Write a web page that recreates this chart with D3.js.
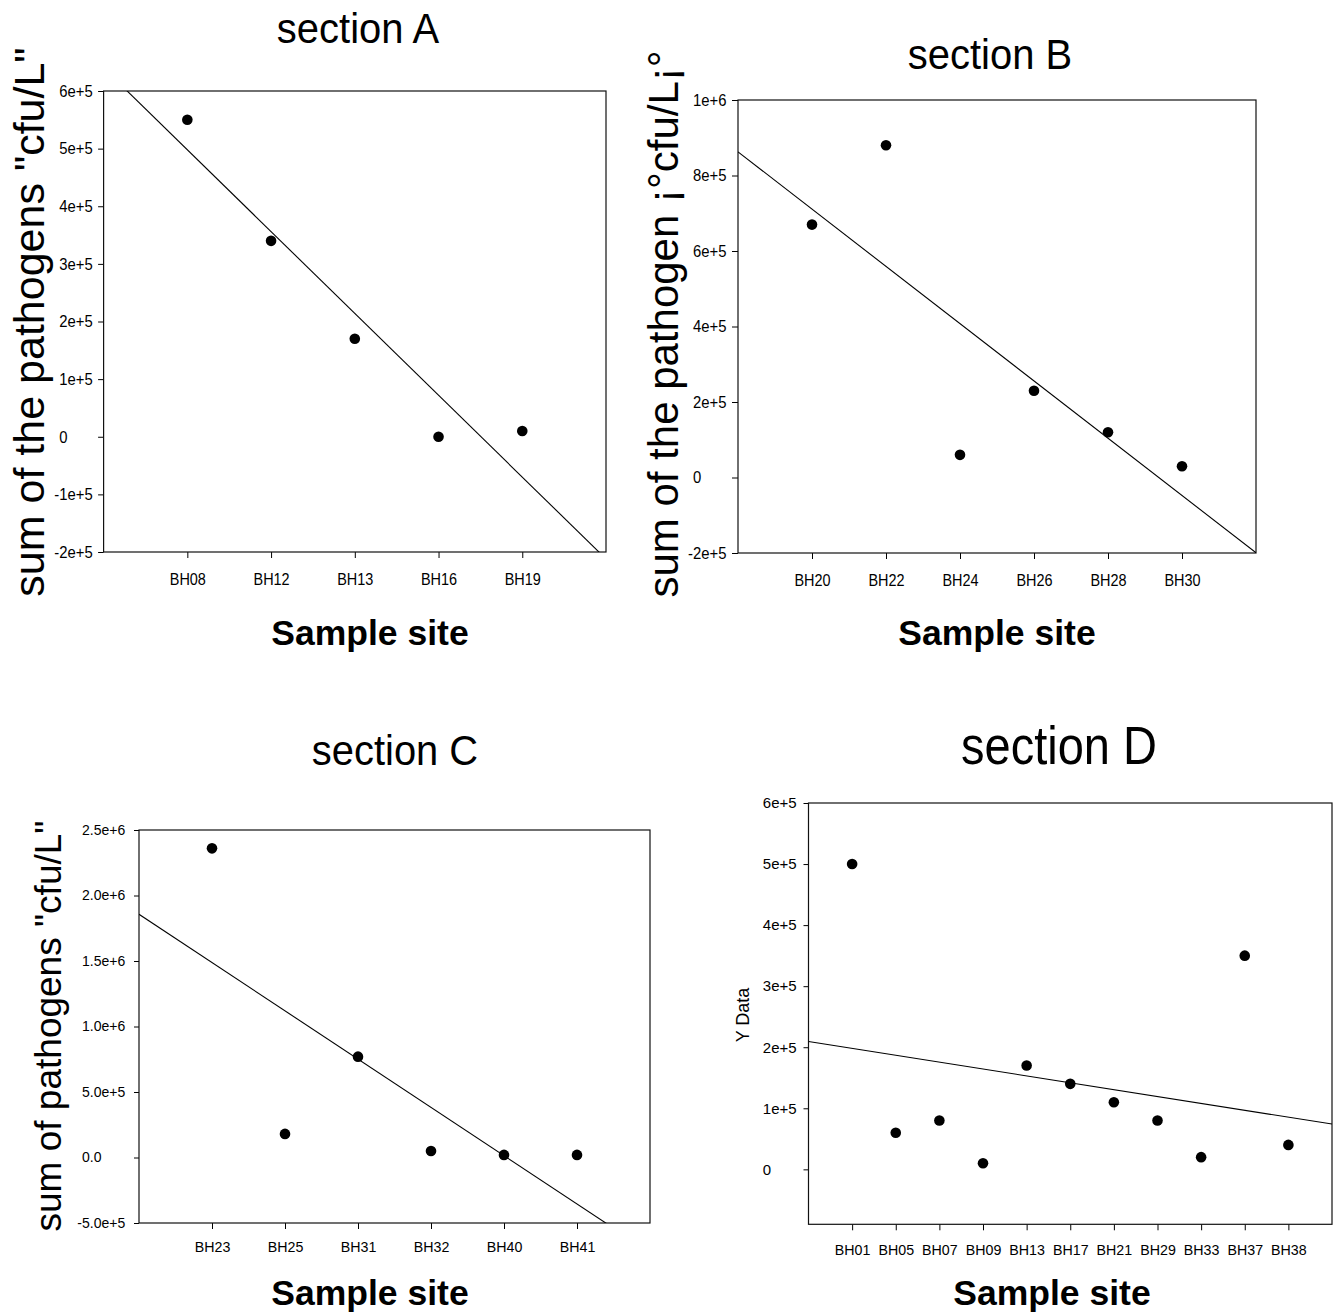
<!DOCTYPE html>
<html>
<head>
<meta charset="utf-8">
<script src="https://cdn.jsdelivr.net/npm/d3@7"></script>
<style>
  body { margin: 0; background: #fff; }
  svg { display: block; font-family: "Liberation Sans", Arial, Helvetica, sans-serif; }
</style>
</head>
<body>
<svg id="chart" width="1335" height="1312"></svg>
<script>
// section A
const sitesA = ['BH08', 'BH12', 'BH13', 'BH16', 'BH19'];
const valuesA = [550000, 340000, 170000, 0, 10000];
const yRangeA = [-200000, 600000];
const yTicksA = [-200000, -100000, 0, 100000, 200000, 300000, 400000, 500000, 600000];
const yTickLabelsA = ['-2e+5', '-1e+5', '0', '1e+5', '2e+5', '3e+5', '4e+5', '5e+5', '6e+5'];

// section B
const sitesB = ['BH20', 'BH22', 'BH24', 'BH26', 'BH28', 'BH30'];
const valuesB = [670000, 880000, 60000, 230000, 120000, 30000];
const yRangeB = [-200000, 1000000];
const yTicksB = [-200000, 0, 200000, 400000, 600000, 800000, 1000000];
const yTickLabelsB = ['-2e+5', '0', '2e+5', '4e+5', '6e+5', '8e+5', '1e+6'];

// section C
const sitesC = ['BH23', 'BH25', 'BH31', 'BH32', 'BH40', 'BH41'];
const valuesC = [2360000, 180000, 770000, 50000, 20000, 20000];
const yRangeC = [-500000, 2500000];
const yTicksC = [-500000, 0, 500000, 1000000, 1500000, 2000000, 2500000];
const yTickLabelsC = ['-5.0e+5', '0.0', '5.0e+5', '1.0e+6', '1.5e+6', '2.0e+6', '2.5e+6'];

// section D
const sitesD = ['BH01', 'BH05', 'BH07', 'BH09', 'BH13', 'BH17', 'BH21', 'BH29', 'BH33', 'BH37', 'BH38'];
const valuesD = [500000, 60000, 80000, 10000, 170000, 140000, 110000, 80000, 20000, 350000, 40000];
const yRangeD = [-90000, 600000];
const yTicksD = [0, 100000, 200000, 300000, 400000, 500000, 600000];
const yTickLabelsD = ['0', '1e+5', '2e+5', '3e+5', '4e+5', '5e+5', '6e+5'];

const titles = ['section A', 'section B', 'section C', 'section D'];
const yLabels = [
  'sum of the pathogens "cfu/L"',
  'sum of the pathogen \u00a1\u00b0cfu/L\u00a1\u00b0',
  'sum of pathogens "cfu/L"',
  'Y Data',
];
const xLabel = 'Sample site';

// layout of each panel (pixels)
const panels = [
  {
    sites: sitesA, values: valuesA, yRange: yRangeA, yTicks: yTicksA, yTickLabels: yTickLabelsA,
    box: { l: 103.6, r: 606, t: 91, b: 552 },
    title: { x: 358, y: 43, size: 43, sx: 0.93 },
    yLab: { x: 43.5, y: 322, size: 43 },
    xLab: { x: 370, y: 645 },
    yTick: { size: 16.5, sx: 0.9, start: -44.3, len: 5.5 },
    xTick: { size: 17, sx: 0.85, base: 33, len: 6 },
  },
  {
    sites: sitesB, values: valuesB, yRange: yRangeB, yTicks: yTicksB, yTickLabels: yTickLabelsB,
    box: { l: 738, r: 1256, t: 100, b: 553 },
    title: { x: 990, y: 69, size: 43, sx: 0.93 },
    yLab: { x: 678, y: 324, size: 42 },
    xLab: { x: 997, y: 645 },
    yTick: { size: 16.5, sx: 0.9, start: -45, len: 6 },
    xTick: { size: 17, sx: 0.85, base: 32.7, len: 6 },
  },
  {
    sites: sitesC, values: valuesC, yRange: yRangeC, yTicks: yTicksC, yTickLabels: yTickLabelsC,
    box: { l: 139, r: 650, t: 830, b: 1223 },
    title: { x: 395, y: 765, size: 42, sx: 0.95 },
    yLab: { x: 61, y: 1026, size: 37 },
    xLab: { x: 370, y: 1305 },
    yTick: { size: 14, sx: 1, start: -57, len: 5 },
    xTick: { size: 15, sx: 0.95, base: 29.3, len: 6 },
  },
  {
    sites: sitesD, values: valuesD, yRange: yRangeD, yTicks: yTicksD, yTickLabels: yTickLabelsD,
    box: { l: 808.5, r: 1332, t: 803, b: 1224.3 },
    title: { x: 1059, y: 764, size: 54, sx: 0.87 },
    yLab: { x: 749, y: 1015, size: 18 },
    xLab: { x: 1052, y: 1305 },
    yTick: { size: 15, sx: 1, start: -45.7, len: 5 },
    xTick: { size: 15, sx: 0.95, base: 30.7, len: 6 },
  },
];

const svg = d3.select('#chart');

// least squares fit against the site index
function fitLine(values) {
  const xs = values.map((v, i) => i + 1);
  const mx = d3.mean(xs);
  const my = d3.mean(values);
  const sxy = d3.sum(xs, (x, i) => (x - mx) * (values[i] - my));
  const sxx = d3.sum(xs, x => (x - mx) * (x - mx));
  const slope = sxy / sxx;
  return { slope, intercept: my - slope * mx };
}

panels.forEach((p, k) => {
  const g = svg.append('g');
  const n = p.sites.length;
  const x = d3.scaleLinear().domain([0, n + 1]).range([p.box.l, p.box.r]);
  const y = d3.scaleLinear().domain(p.yRange).range([p.box.b, p.box.t]);

  // title
  g.append('text')
    .attr('transform', `translate(${p.title.x},${p.title.y}) scale(${p.title.sx},1)`)
    .attr('text-anchor', 'middle')
    .style('font-size', `${p.title.size}px`)
    .text(titles[k]);

  // y axis label
  g.append('text')
    .attr('transform', `translate(${p.yLab.x},${p.yLab.y}) rotate(-90)`)
    .attr('text-anchor', 'middle')
    .style('font-size', `${p.yLab.size}px`)
    .text(yLabels[k]);

  // x axis label
  g.append('text')
    .attr('x', p.xLab.x)
    .attr('y', p.xLab.y)
    .attr('text-anchor', 'middle')
    .style('font-size', '35.5px')
    .style('font-weight', 'bold')
    .text(xLabel);

  // left axis
  const yAxis = g.append('g')
    .attr('transform', `translate(${p.box.l},0)`)
    .style('color', '#000')
    .call(d3.axisLeft(y)
      .tickValues(p.yTicks)
      .tickFormat((d, i) => p.yTickLabels[i])
      .tickSize(p.yTick.len));
  yAxis.select('.domain').remove();
  yAxis.selectAll('text')
    .attr('text-anchor', 'start')
    .attr('x', d => (p.yTick.start - (d < 0 ? 0.333 * p.yTick.size * p.yTick.sx : 0)) / p.yTick.sx)
    .attr('transform', `scale(${p.yTick.sx},1)`)
    .style('font-size', `${p.yTick.size}px`)
    .style('font-family', 'inherit');

  // bottom axis
  const xAxis = g.append('g')
    .attr('transform', `translate(0,${p.box.b})`)
    .style('color', '#000')
    .call(d3.axisBottom(x)
      .tickValues(d3.range(1, n + 1))
      .tickFormat(i => p.sites[i - 1])
      .tickSize(p.xTick.len));
  xAxis.select('.domain').remove();
  xAxis.selectAll('text')
    .attr('y', p.xTick.base)
    .attr('dy', 0)
    .attr('transform', `scale(${p.xTick.sx},1)`)
    .style('font-size', `${p.xTick.size}px`)
    .style('font-family', 'inherit');

  // frame
  g.append('rect')
    .attr('x', p.box.l)
    .attr('y', p.box.t)
    .attr('width', p.box.r - p.box.l)
    .attr('height', p.box.b - p.box.t)
    .attr('fill', 'none')
    .attr('stroke', '#111')
    .attr('stroke-width', 1.2);

  // regression line, clipped to the frame
  const clipId = `clip${k}`;
  g.append('clipPath').attr('id', clipId)
    .append('rect')
    .attr('x', p.box.l)
    .attr('y', p.box.t)
    .attr('width', p.box.r - p.box.l)
    .attr('height', p.box.b - p.box.t);
  const fit = fitLine(p.values);
  const ends = [0, n + 1];
  g.append('path')
    .attr('clip-path', `url(#${clipId})`)
    .attr('d', d3.line()
      .x(d => x(d))
      .y(d => y(fit.intercept + fit.slope * d))(ends))
    .attr('fill', 'none')
    .attr('stroke', '#000')
    .attr('stroke-width', 1.1);

  // points
  g.selectAll('circle.pt')
    .data(p.values)
    .enter().append('circle')
    .attr('class', 'pt')
    .attr('cx', (d, i) => x(i + 1))
    .attr('cy', d => y(d))
    .attr('r', 5.3)
    .attr('fill', '#000');
});
</script>
</body>
</html>
